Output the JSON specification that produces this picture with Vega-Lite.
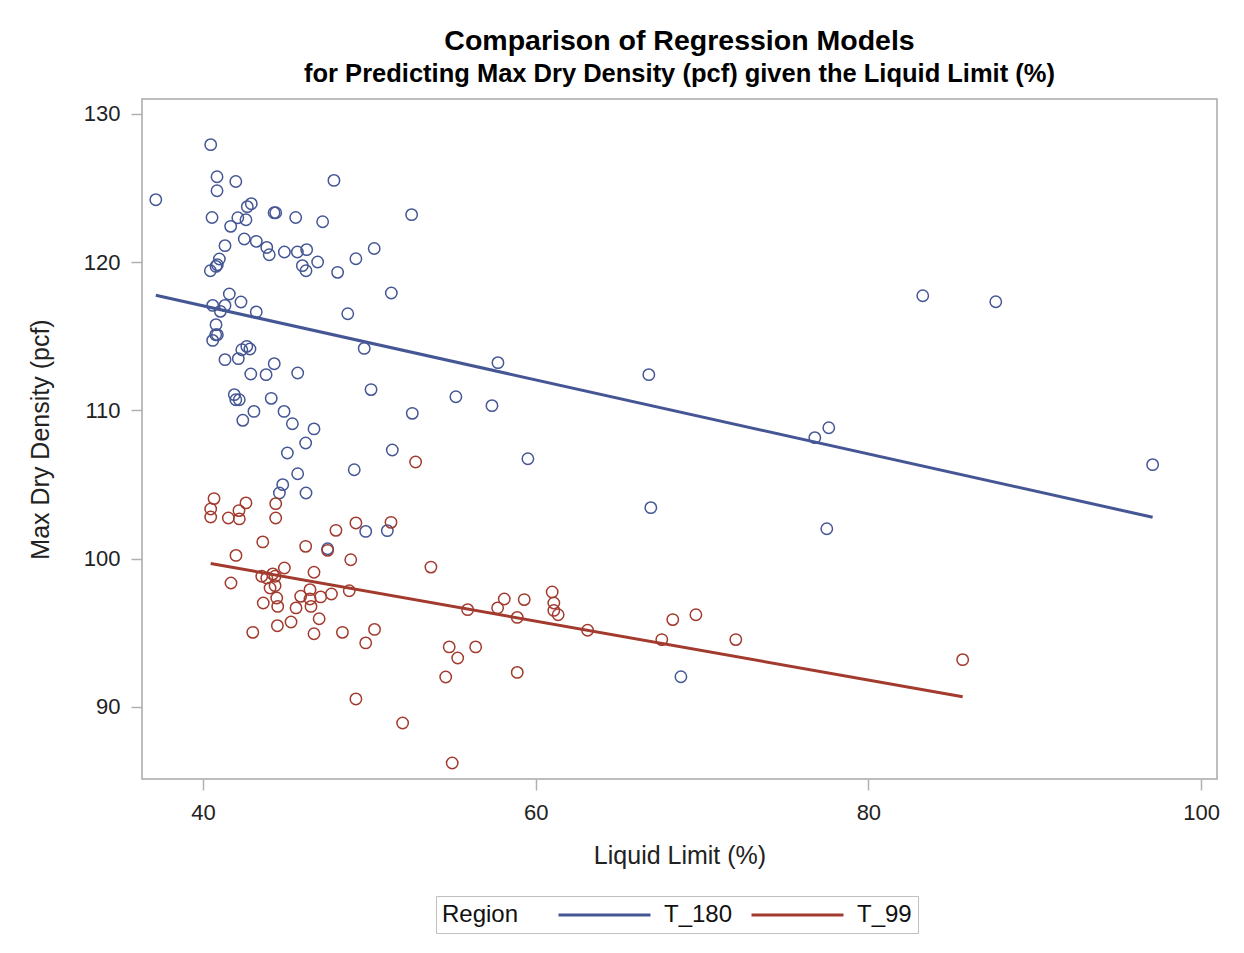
{
  "$schema": "https://vega.github.io/schema/vega-lite/v6.json",
  "width": 1075,
  "height": 680,
  "autosize": {"type": "none"},
  "padding": {"left": 142, "top": 99, "right": 27, "bottom": 174},
  "background": "white",
  "title": {
    "text": "Comparison of Regression Models",
    "subtitle": "for Predicting Max Dry Density (pcf) given the Liquid Limit (%)",
    "anchor": "middle",
    "frame": "group",
    "font": "Liberation Sans",
    "fontSize": 28.5,
    "fontWeight": "bold",
    "color": "#000000",
    "subtitleFont": "Liberation Sans",
    "subtitleFontSize": 25.5,
    "subtitleFontWeight": "bold",
    "subtitleColor": "#000000",
    "subtitlePadding": 6,
    "offset": 12
  },
  "datasets": {
    "soils": [
      {"Region": "T_180", "LL": 37.16, "MDD": 124.21},
      {"Region": "T_180", "LL": 40.46, "MDD": 127.92},
      {"Region": "T_180", "LL": 40.84, "MDD": 125.76},
      {"Region": "T_180", "LL": 40.84, "MDD": 124.81},
      {"Region": "T_180", "LL": 41.97, "MDD": 125.44},
      {"Region": "T_180", "LL": 47.87, "MDD": 125.51},
      {"Region": "T_180", "LL": 40.54, "MDD": 123.01},
      {"Region": "T_180", "LL": 41.66, "MDD": 122.41},
      {"Region": "T_180", "LL": 42.09, "MDD": 122.99},
      {"Region": "T_180", "LL": 42.58, "MDD": 122.86},
      {"Region": "T_180", "LL": 42.66, "MDD": 123.74},
      {"Region": "T_180", "LL": 42.90, "MDD": 123.94},
      {"Region": "T_180", "LL": 44.27, "MDD": 123.33},
      {"Region": "T_180", "LL": 44.37, "MDD": 123.33},
      {"Region": "T_180", "LL": 45.57, "MDD": 123.01},
      {"Region": "T_180", "LL": 47.19, "MDD": 122.72},
      {"Region": "T_180", "LL": 52.54, "MDD": 123.20},
      {"Region": "T_180", "LL": 41.32, "MDD": 121.11},
      {"Region": "T_180", "LL": 42.48, "MDD": 121.56},
      {"Region": "T_180", "LL": 43.20, "MDD": 121.40},
      {"Region": "T_180", "LL": 43.83, "MDD": 120.99},
      {"Region": "T_180", "LL": 43.98, "MDD": 120.50},
      {"Region": "T_180", "LL": 44.89, "MDD": 120.68},
      {"Region": "T_180", "LL": 45.67, "MDD": 120.68},
      {"Region": "T_180", "LL": 46.23, "MDD": 120.84},
      {"Region": "T_180", "LL": 45.97, "MDD": 119.76},
      {"Region": "T_180", "LL": 46.19, "MDD": 119.42},
      {"Region": "T_180", "LL": 46.89, "MDD": 120.01},
      {"Region": "T_180", "LL": 48.09, "MDD": 119.31},
      {"Region": "T_180", "LL": 49.19, "MDD": 120.23},
      {"Region": "T_180", "LL": 50.29, "MDD": 120.92},
      {"Region": "T_180", "LL": 40.98, "MDD": 120.21},
      {"Region": "T_180", "LL": 40.86, "MDD": 119.82},
      {"Region": "T_180", "LL": 40.44, "MDD": 119.42},
      {"Region": "T_180", "LL": 40.78, "MDD": 119.71},
      {"Region": "T_180", "LL": 51.32, "MDD": 117.92},
      {"Region": "T_180", "LL": 41.58, "MDD": 117.85},
      {"Region": "T_180", "LL": 40.58, "MDD": 117.08},
      {"Region": "T_180", "LL": 41.32, "MDD": 117.08},
      {"Region": "T_180", "LL": 41.04, "MDD": 116.68},
      {"Region": "T_180", "LL": 42.28, "MDD": 117.31},
      {"Region": "T_180", "LL": 43.20, "MDD": 116.64},
      {"Region": "T_180", "LL": 40.78, "MDD": 115.78},
      {"Region": "T_180", "LL": 48.70, "MDD": 116.52},
      {"Region": "T_180", "LL": 40.76, "MDD": 115.10},
      {"Region": "T_180", "LL": 40.86, "MDD": 115.10},
      {"Region": "T_180", "LL": 40.58, "MDD": 114.72},
      {"Region": "T_180", "LL": 41.32, "MDD": 113.42},
      {"Region": "T_180", "LL": 42.12, "MDD": 113.49},
      {"Region": "T_180", "LL": 42.33, "MDD": 114.09},
      {"Region": "T_180", "LL": 42.63, "MDD": 114.32},
      {"Region": "T_180", "LL": 42.82, "MDD": 114.14},
      {"Region": "T_180", "LL": 42.87, "MDD": 112.45},
      {"Region": "T_180", "LL": 43.79, "MDD": 112.41},
      {"Region": "T_180", "LL": 44.28, "MDD": 113.15},
      {"Region": "T_180", "LL": 45.69, "MDD": 112.52},
      {"Region": "T_180", "LL": 49.69, "MDD": 114.18},
      {"Region": "T_180", "LL": 41.88, "MDD": 111.06},
      {"Region": "T_180", "LL": 41.97, "MDD": 110.72},
      {"Region": "T_180", "LL": 42.18, "MDD": 110.72},
      {"Region": "T_180", "LL": 44.10, "MDD": 110.81},
      {"Region": "T_180", "LL": 43.06, "MDD": 109.93},
      {"Region": "T_180", "LL": 42.39, "MDD": 109.33},
      {"Region": "T_180", "LL": 44.87, "MDD": 109.93},
      {"Region": "T_180", "LL": 45.37, "MDD": 109.10},
      {"Region": "T_180", "LL": 46.67, "MDD": 108.75},
      {"Region": "T_180", "LL": 46.17, "MDD": 107.80},
      {"Region": "T_180", "LL": 50.10, "MDD": 111.40},
      {"Region": "T_180", "LL": 52.58, "MDD": 109.80},
      {"Region": "T_180", "LL": 45.07, "MDD": 107.13},
      {"Region": "T_180", "LL": 45.69, "MDD": 105.73},
      {"Region": "T_180", "LL": 51.38, "MDD": 107.33},
      {"Region": "T_180", "LL": 49.09, "MDD": 106.00},
      {"Region": "T_180", "LL": 44.79, "MDD": 104.99},
      {"Region": "T_180", "LL": 44.59, "MDD": 104.43},
      {"Region": "T_180", "LL": 46.19, "MDD": 104.43},
      {"Region": "T_180", "LL": 49.78, "MDD": 101.84},
      {"Region": "T_180", "LL": 51.08, "MDD": 101.89},
      {"Region": "T_180", "LL": 47.49, "MDD": 100.67},
      {"Region": "T_180", "LL": 57.73, "MDD": 113.22},
      {"Region": "T_180", "LL": 55.20, "MDD": 110.92},
      {"Region": "T_180", "LL": 57.37, "MDD": 110.32},
      {"Region": "T_180", "LL": 59.53, "MDD": 106.74},
      {"Region": "T_180", "LL": 66.80, "MDD": 112.41},
      {"Region": "T_180", "LL": 66.92, "MDD": 103.44},
      {"Region": "T_180", "LL": 68.73, "MDD": 92.04},
      {"Region": "T_180", "LL": 76.78, "MDD": 108.16},
      {"Region": "T_180", "LL": 77.62, "MDD": 108.83},
      {"Region": "T_180", "LL": 77.50, "MDD": 102.02},
      {"Region": "T_180", "LL": 83.27, "MDD": 117.73},
      {"Region": "T_180", "LL": 87.66, "MDD": 117.33},
      {"Region": "T_180", "LL": 97.09, "MDD": 106.34},
      {"Region": "T_99", "LL": 40.66, "MDD": 104.05},
      {"Region": "T_99", "LL": 40.46, "MDD": 103.35},
      {"Region": "T_99", "LL": 40.46, "MDD": 102.81},
      {"Region": "T_99", "LL": 41.52, "MDD": 102.74},
      {"Region": "T_99", "LL": 42.16, "MDD": 103.24},
      {"Region": "T_99", "LL": 42.18, "MDD": 102.68},
      {"Region": "T_99", "LL": 42.58, "MDD": 103.76},
      {"Region": "T_99", "LL": 44.37, "MDD": 103.71},
      {"Region": "T_99", "LL": 44.37, "MDD": 102.74},
      {"Region": "T_99", "LL": 43.59, "MDD": 101.13},
      {"Region": "T_99", "LL": 41.98, "MDD": 100.22},
      {"Region": "T_99", "LL": 41.68, "MDD": 98.36},
      {"Region": "T_99", "LL": 46.17, "MDD": 100.83},
      {"Region": "T_99", "LL": 47.99, "MDD": 101.91},
      {"Region": "T_99", "LL": 49.19, "MDD": 102.41},
      {"Region": "T_99", "LL": 51.30, "MDD": 102.45},
      {"Region": "T_99", "LL": 48.88, "MDD": 99.93},
      {"Region": "T_99", "LL": 47.49, "MDD": 100.56},
      {"Region": "T_99", "LL": 44.89, "MDD": 99.37},
      {"Region": "T_99", "LL": 46.67, "MDD": 99.08},
      {"Region": "T_99", "LL": 43.53, "MDD": 98.81},
      {"Region": "T_99", "LL": 43.83, "MDD": 98.70},
      {"Region": "T_99", "LL": 44.19, "MDD": 98.97},
      {"Region": "T_99", "LL": 44.33, "MDD": 98.81},
      {"Region": "T_99", "LL": 44.03, "MDD": 98.02},
      {"Region": "T_99", "LL": 44.33, "MDD": 98.18},
      {"Region": "T_99", "LL": 44.43, "MDD": 97.35},
      {"Region": "T_99", "LL": 43.62, "MDD": 97.01},
      {"Region": "T_99", "LL": 44.49, "MDD": 96.78},
      {"Region": "T_99", "LL": 45.59, "MDD": 96.68},
      {"Region": "T_99", "LL": 45.87, "MDD": 97.46},
      {"Region": "T_99", "LL": 46.43, "MDD": 97.91},
      {"Region": "T_99", "LL": 46.43, "MDD": 97.28},
      {"Region": "T_99", "LL": 46.49, "MDD": 96.78},
      {"Region": "T_99", "LL": 47.07, "MDD": 97.42},
      {"Region": "T_99", "LL": 47.72, "MDD": 97.62},
      {"Region": "T_99", "LL": 48.79, "MDD": 97.84},
      {"Region": "T_99", "LL": 46.98, "MDD": 95.95},
      {"Region": "T_99", "LL": 45.29, "MDD": 95.73},
      {"Region": "T_99", "LL": 44.47, "MDD": 95.48},
      {"Region": "T_99", "LL": 42.99, "MDD": 95.03},
      {"Region": "T_99", "LL": 46.67, "MDD": 94.94},
      {"Region": "T_99", "LL": 48.38, "MDD": 95.03},
      {"Region": "T_99", "LL": 49.78, "MDD": 94.32},
      {"Region": "T_99", "LL": 50.31, "MDD": 95.23},
      {"Region": "T_99", "LL": 53.70, "MDD": 99.43},
      {"Region": "T_99", "LL": 55.91, "MDD": 96.56},
      {"Region": "T_99", "LL": 57.71, "MDD": 96.68},
      {"Region": "T_99", "LL": 58.11, "MDD": 97.28},
      {"Region": "T_99", "LL": 58.89, "MDD": 96.04},
      {"Region": "T_99", "LL": 59.31, "MDD": 97.24},
      {"Region": "T_99", "LL": 60.99, "MDD": 97.75},
      {"Region": "T_99", "LL": 61.09, "MDD": 97.01},
      {"Region": "T_99", "LL": 61.09, "MDD": 96.51},
      {"Region": "T_99", "LL": 61.35, "MDD": 96.22},
      {"Region": "T_99", "LL": 63.12, "MDD": 95.17},
      {"Region": "T_99", "LL": 54.80, "MDD": 94.05},
      {"Region": "T_99", "LL": 55.31, "MDD": 93.30},
      {"Region": "T_99", "LL": 56.39, "MDD": 94.05},
      {"Region": "T_99", "LL": 54.59, "MDD": 92.02},
      {"Region": "T_99", "LL": 58.89, "MDD": 92.33},
      {"Region": "T_99", "LL": 49.19, "MDD": 90.54},
      {"Region": "T_99", "LL": 52.00, "MDD": 88.92},
      {"Region": "T_99", "LL": 54.98, "MDD": 86.22},
      {"Region": "T_99", "LL": 52.78, "MDD": 106.52},
      {"Region": "T_99", "LL": 67.58, "MDD": 94.54},
      {"Region": "T_99", "LL": 68.24, "MDD": 95.89},
      {"Region": "T_99", "LL": 69.63, "MDD": 96.22},
      {"Region": "T_99", "LL": 72.03, "MDD": 94.54},
      {"Region": "T_99", "LL": 85.67, "MDD": 93.19}
    ]
  },
  "data": {"name": "soils"},
  "layer": [
    {
      "mark": {"type": "point", "shape": "circle", "filled": false, "size": 130, "strokeWidth": 1.5, "opacity": 1},
      "encoding": {
        "x": {"field": "LL", "type": "quantitative"},
        "y": {"field": "MDD", "type": "quantitative"},
        "color": {"field": "Region", "type": "nominal"}
      }
    },
    {
      "transform": [
        {"regression": "MDD", "on": "LL", "groupby": ["Region"]}
      ],
      "mark": {"type": "line", "strokeWidth": 3},
      "encoding": {
        "x": {
          "field": "LL",
          "type": "quantitative",
          "title": "Liquid Limit (%)",
          "scale": {"domain": [36.33, 100.96], "nice": false, "zero": false},
          "axis": {"values": [40, 60, 80, 100]}
        },
        "y": {
          "field": "MDD",
          "type": "quantitative",
          "title": "Max Dry Density (pcf)",
          "scale": {"domain": [85.14, 131.0], "nice": false, "zero": false},
          "axis": {"values": [90, 100, 110, 120, 130]}
        },
        "color": {
          "field": "Region",
          "type": "nominal",
          "scale": {"domain": ["T_180", "T_99"], "range": ["#445694", "#A23A2E"]},
          "legend": {
            "title": "Region",
            "orient": "none",
            "direction": "horizontal",
            "legendX": 294,
            "legendY": 797,
            "titleOrient": "left",
            "titleAnchor": "middle",
            "titleBaseline": "middle",
            "symbolType": "M-1,0H7",
            "symbolStrokeWidth": 3,
            "symbolFillColor": "transparent",
            "symbolSize": 529,
            "columnPadding": 12,
            "labelOffset": 81,
            "padding": 6,
            "strokeColor": "#C0C0C0",
            "fillColor": "white"
          }
        }
      }
    }
  ],
  "config": {
    "font": "Liberation Sans",
    "view": {"stroke": "#A8A8A8", "strokeWidth": 1.5},
    "axis": {
      "grid": false,
      "domain": false,
      "tickColor": "#B0B0B0",
      "tickSize": 11,
      "tickWidth": 1.5,
      "labelFont": "Liberation Sans",
      "labelFontSize": 22,
      "labelColor": "#222222",
      "titleFont": "Liberation Sans",
      "titleFontSize": 25,
      "titleFontWeight": "normal",
      "titleColor": "#222222"
    },
    "axisX": {"labelPadding": 12, "titlePadding": 20},
    "axisY": {"labelPadding": 11, "titlePadding": 30},
    "legend": {
      "labelFont": "Liberation Sans",
      "labelFontSize": 24,
      "labelColor": "#111111",
      "titleFont": "Liberation Sans",
      "titleFontSize": 24,
      "titleFontWeight": "normal",
      "titleColor": "#111111",
      "titlePadding": 38
    }
  }
}
